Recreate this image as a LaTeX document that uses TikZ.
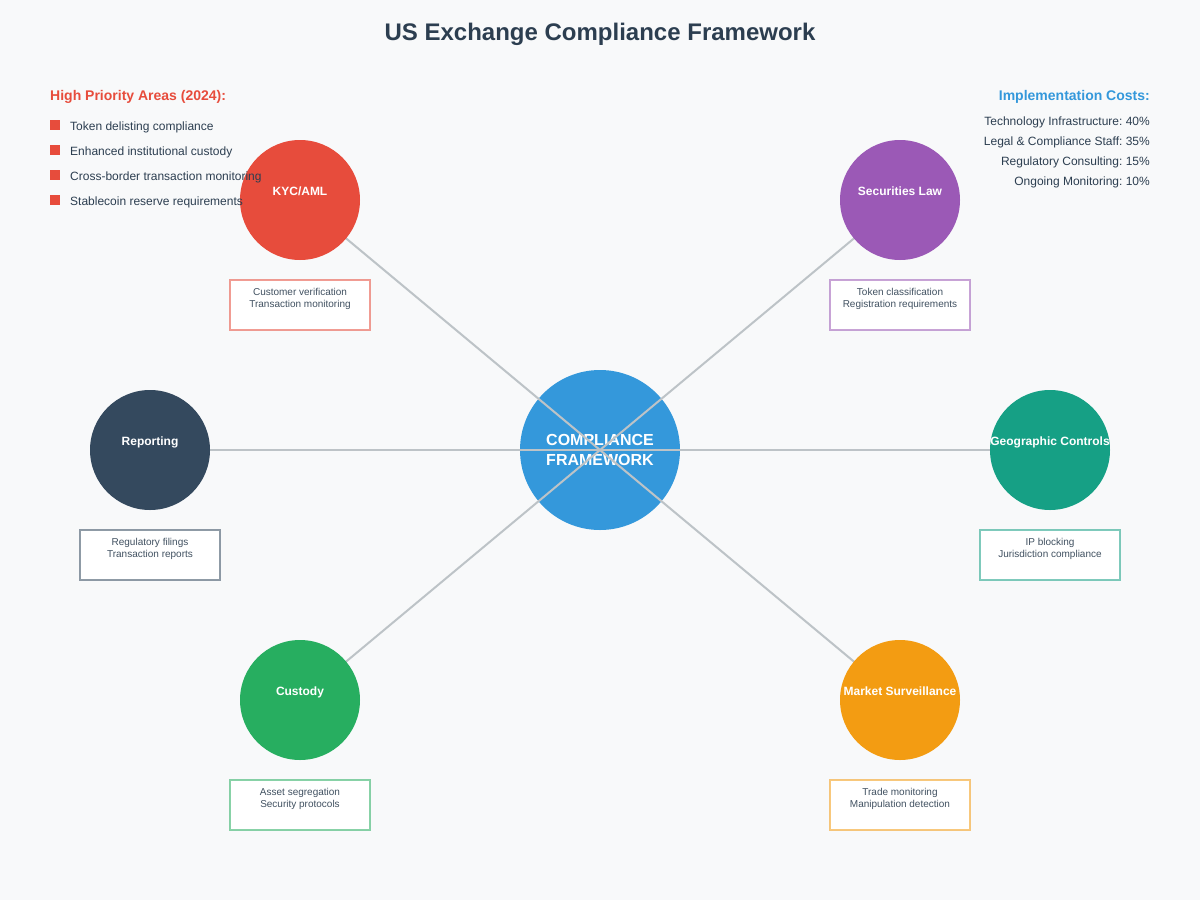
\documentclass[tikz,border=0pt]{standalone}
\usepackage{fontspec}
\setmainfont{Liberation Sans}
\frenchspacing
\pgfdeclarelayer{canvas}
\pgfdeclarelayer{back}
\pgfdeclarelayer{edges}
\pgfsetlayers{canvas,back,edges,main}
\definecolor{bgc}{HTML}{F8F9FA}
\definecolor{ink}{HTML}{2C3E50}
\definecolor{cred}{HTML}{E74C3C}
\definecolor{cpur}{HTML}{9B59B6}
\definecolor{cnavy}{HTML}{34495E}
\definecolor{cteal}{HTML}{16A085}
\definecolor{cgreen}{HTML}{27AE60}
\definecolor{corange}{HTML}{F39C12}
\definecolor{cblue}{HTML}{3498DB}
\definecolor{cline}{HTML}{BDC3C7}
\tikzset{
  area/.style={circle, fill=#1, minimum size=120pt, inner sep=0pt},
  arealabel/.style={anchor=base, text=white, font=\fontsize{12}{14}\selectfont\bfseries, inner sep=0pt},
  detailbox/.style={rectangle, fill=white, draw=#1, draw opacity=0.55, line width=1.2pt, minimum width=140pt, minimum height=50pt, inner sep=0pt},
  detailtext/.style={anchor=base, text=ink!90, font=\fontsize{10}{12}\selectfont, inner sep=0pt},
  link/.style={draw=cline, line width=2pt},
  bullet/.style={rectangle, fill=cred, minimum size=10pt, inner sep=0pt},
  itemtext/.style={anchor=base west, text=ink, font=\fontsize{12}{14}\selectfont, inner sep=0pt},
  costtext/.style={anchor=base east, text=ink, font=\fontsize{12}{14}\selectfont, inner sep=0pt},
}
\begin{document}
\begin{tikzpicture}[x=1pt,y=-1pt]
\begin{pgfonlayer}{canvas}
\fill[bgc] (0,0) rectangle (1200,900);
\end{pgfonlayer}
\useasboundingbox (0,0) rectangle (1200,900);

\node[anchor=base, text=ink, font=\fontsize{24}{28}\selectfont\bfseries, inner sep=0pt] (title) at (600,40) {US Exchange Compliance Framework};

% center
\begin{pgfonlayer}{back}
\node[circle, fill=cblue, minimum size=160pt, inner sep=0pt] (center) at (600,450) {};
\node[anchor=base, text=white, font=\fontsize{16}{19}\selectfont\bfseries, inner sep=0pt] (ct1) at (600,445) {COMPLIANCE};
\node[anchor=base, text=white, font=\fontsize{16}{19}\selectfont\bfseries, inner sep=0pt] (ct2) at (600,465) {FRAMEWORK};
\end{pgfonlayer}

% outer areas
\node[area=cred] (kyc) at (300,200) {};
\node[area=cpur] (sec) at (900,200) {};
\node[area=cnavy] (rep) at (150,450) {};
\node[area=cteal] (geo) at (1050,450) {};
\node[area=cgreen] (cus) at (300,700) {};
\node[area=corange] (mkt) at (900,700) {};

\begin{pgfonlayer}{edges}
\foreach \n in {kyc,sec,rep,geo,cus,mkt}
  \draw[link] (center.center) -- (\n.center);
\end{pgfonlayer}

\node[arealabel] (kycl) at (300,195.2) {KYC/AML};
\node[arealabel] (secl) at (900,195.2) {Securities Law};
\node[arealabel] (repl) at (150,445.2) {Reporting};
\node[arealabel] (geol) at (1050,445.2) {Geographic Controls};
\node[arealabel] (cusl) at (300,695.2) {Custody};
\node[arealabel] (mktl) at (900,695.2) {Market Surveillance};

% detail boxes
\node[detailbox=cred] (kycb) at (300,305) {};
\node[detailtext] (kycb1) at (300,295.5) {Customer verification};
\node[detailtext] (kycb2) at (300,307.5) {Transaction monitoring};

\node[detailbox=cpur] (secb) at (900,305) {};
\node[detailtext] (secb1) at (900,295.5) {Token classification};
\node[detailtext] (secb2) at (900,307.5) {Registration requirements};

\node[detailbox=cnavy] (repb) at (150,555) {};
\node[detailtext] (repb1) at (150,545.5) {Regulatory filings};
\node[detailtext] (repb2) at (150,557.5) {Transaction reports};

\node[detailbox=cteal] (geob) at (1050,555) {};
\node[detailtext] (geob1) at (1050,545.5) {IP blocking};
\node[detailtext] (geob2) at (1050,557.5) {Jurisdiction compliance};

\node[detailbox=cgreen] (cusb) at (300,805) {};
\node[detailtext] (cusb1) at (300,795.5) {Asset segregation};
\node[detailtext] (cusb2) at (300,807.5) {Security protocols};

\node[detailbox=corange] (mktb) at (900,805) {};
\node[detailtext] (mktb1) at (900,795.5) {Trade monitoring};
\node[detailtext] (mktb2) at (900,807.5) {Manipulation detection};

% left legend
\node[anchor=base west, text=cred, font=\fontsize{14}{17}\selectfont\bfseries, inner sep=0pt] (hp) at (50,100) {High Priority Areas (2024):};
\node[bullet] (b1) at (55,125) {};
\node[bullet] (b2) at (55,150) {};
\node[bullet] (b3) at (55,175) {};
\node[bullet] (b4) at (55,200) {};
\node[itemtext] (i1) at (70,130) {Token delisting compliance};
\node[itemtext] (i2) at (70,155) {Enhanced institutional custody};
\node[itemtext] (i3) at (70,180) {Cross-border transaction monitoring};
\node[itemtext] (i4) at (70,205) {Stablecoin reserve requirements};

% right legend
\node[anchor=base east, text=cblue, font=\fontsize{14}{17}\selectfont\bfseries, inner sep=0pt] (ic) at (1150,100) {Implementation Costs:};
\node[costtext] (c1) at (1150,125) {Technology Infrastructure: 40\%};
\node[costtext] (c2) at (1150,145) {Legal \& Compliance Staff: 35\%};
\node[costtext] (c3) at (1150,165) {Regulatory Consulting: 15\%};
\node[costtext] (c4) at (1150,185) {Ongoing Monitoring: 10\%};
\end{tikzpicture}
\end{document}
